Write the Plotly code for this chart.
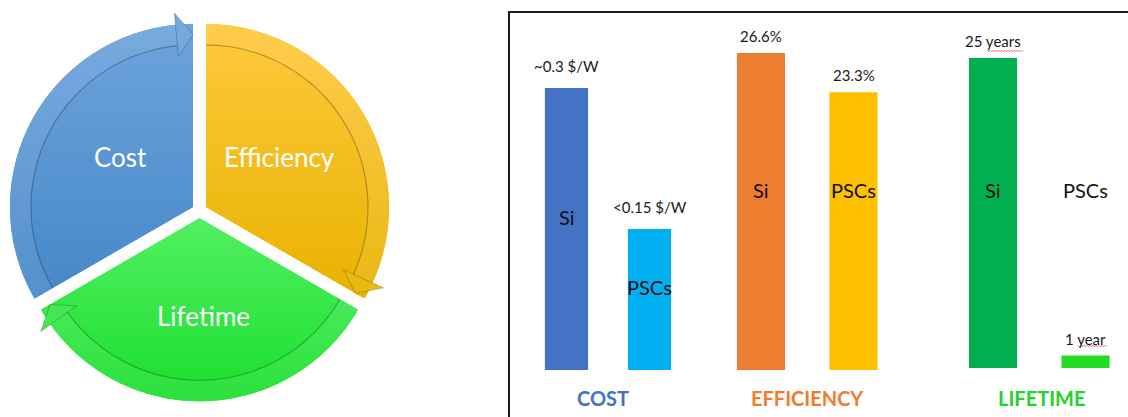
import numpy as np
import plotly.graph_objects as go

W, H = 1128, 417

# ---------------- data ----------------
cycle_labels = ["Cost", "Efficiency", "Lifetime"]
cycle_values = [1, 1, 1]

bar_categories = ["Si", "PSCs"]
group_names = ["COST", "EFFICIENCY", "LIFETIME"]
cost_values = [0.3, 0.15]
efficiency_values = [26.6, 23.3]
lifetime_values = [25, 1]
cost_texts = ["~0.3 $/W", "<0.15 $/W"]
efficiency_texts = ["26.6%", "23.3%"]
lifetime_texts = ["25 years", "1 year"]

# ---------------- styles ----------------
FONT = "Lato"
TEXT_DARK = "#1a1a1a"
wedge_mid = ["#5A97D3", "#F5BE1C", "#35E846"]
wedge_top = ["#6FA5DD", "#FFC93E", "#52EF62"]
wedge_bottom = ["#4687C9", "#E8B200", "#1ADF2C"]
bar_colors = [["#4472C4", "#00B0F0"], ["#ED7D31", "#FFC000"], ["#00B050", "#22DD22"]]
group_label_colors = ["#4472C4", "#ED7D31", "#22D32B"]

# cycle-diagram geometry (pixels)
CX, CY, RAD, PULL = 199.5, 210.75, 183.0, 7.5
BAND, HEAD_OUT, HEAD_IN, HEAD_ANG = 21.0, 12.0, 32.0, 5.5
START_ANGLE = 210.0  # math degrees, slices go clockwise


def hex2rgb(h):
    h = h.lstrip("#")
    return np.array([int(h[i:i + 2], 16) for i in (0, 2, 4)], dtype=float)


def mix(c1, c2, t):
    c = (1 - t) * hex2rgb(c1) + t * hex2rgb(c2)
    return "rgb(%d,%d,%d)" % tuple(np.clip(np.round(c), 0, 255))


def lighten(rgbstr, a):
    vals = np.array([float(v) for v in rgbstr[4:-1].split(",")])
    vals = vals + (255 - vals) * a
    return "rgb(%d,%d,%d)" % tuple(np.round(vals))


def to_path(points, close=True):
    s = "M " + " L ".join(f"{x / W:.5f},{1 - y / H:.5f}" for x, y in points)
    return s + (" Z" if close else "")


def clip_half(poly, keep, cval):
    out = []
    n = len(poly)
    for i in range(n):
        cur, prev = poly[i], poly[i - 1]
        kc, kp = keep(cur), keep(prev)
        if kc:
            if not kp:
                t = (cval - prev[1]) / (cur[1] - prev[1])
                out.append((prev[0] + t * (cur[0] - prev[0]), cval))
            out.append(cur)
        elif kp:
            t = (cval - prev[1]) / (cur[1] - prev[1])
            out.append((prev[0] + t * (cur[0] - prev[0]), cval))
    return out


def clip_strip(poly, y0, y1):
    p = clip_half(poly, lambda q: q[1] >= y0, y0)
    if len(p) < 3:
        return []
    p = clip_half(p, lambda q: q[1] <= y1, y1)
    return p if len(p) >= 3 else []


shapes = []
annotations = []

# ---------------- cycle diagram (pie) ----------------
vals = np.array(cycle_values, dtype=float)
fracs = vals / vals.sum()
pull_frac = PULL / RAD
R_box = RAD * (1 + pull_frac)

pie = go.Pie(
    labels=cycle_labels,
    values=cycle_values,
    sort=False,
    direction="clockwise",
    rotation=90 - START_ANGLE,
    pull=[pull_frac] * len(cycle_values),
    marker=dict(colors=wedge_mid, line=dict(width=0)),
    textinfo="none",
    hoverinfo="skip",
    showlegend=False,
    domain=dict(x=[(CX - R_box) / W, (CX + R_box) / W],
                y=[1 - (CY + R_box) / H, 1 - (CY - R_box) / H]),
)

cum = np.concatenate([[0], np.cumsum(fracs)])
for k in range(len(cycle_values)):
    a0 = START_ANGLE - 360 * cum[k]
    a1 = START_ANGLE - 360 * cum[k + 1]
    b = np.radians((a0 + a1) / 2)
    ax, ay = CX + PULL * np.cos(b), CY - PULL * np.sin(b)

    def pt(ang, rr):
        return (ax + rr * np.cos(np.radians(ang)), ay - rr * np.sin(np.radians(ang)))

    arc = [pt(a, RAD) for a in np.linspace(a0, a1, 80)]
    wedge = [(ax, ay)] + arc
    ys = [p[1] for p in wedge]
    head = [pt(a1 + HEAD_ANG, RAD + HEAD_OUT), pt(a1, RAD - BAND / 2), pt(a1 + HEAD_ANG, RAD - HEAD_IN)]
    ys_all = ys + [p[1] for p in head]
    ymin, ymax = min(ys_all), max(ys_all)

    # vertical gradient strips clipped to the wedge
    step = 5.0
    nstr = int(np.ceil((max(ys) - min(ys)) / step))
    for i in range(nstr):
        y0 = min(ys) + i * step
        y1 = y0 + step
        poly = clip_strip(wedge, y0 - 0.5, y1 + 0.5)
        if not poly:
            continue
        t = ((y0 + y1) / 2 - ymin) / (ymax - ymin)
        shapes.append(dict(type="path", xref="paper", yref="paper", layer="above",
                           path=to_path(poly), fillcolor=mix(wedge_top[k], wedge_bottom[k], t),
                           line=dict(width=0)))

    # lighter rim band
    outer = [pt(a, RAD) for a in np.linspace(a0, a1 + HEAD_ANG, 60)]
    inner = [pt(a, RAD - BAND) for a in np.linspace(a1 + HEAD_ANG, a0, 60)]
    shapes.append(dict(type="path", xref="paper", yref="paper", layer="above",
                       path=to_path(outer + inner), fillcolor="rgba(255,255,255,0.08)",
                       line=dict(width=0)))
    # arrow head
    hy = np.mean([p[1] for p in head])
    hcol = lighten(mix(wedge_top[k], wedge_bottom[k], (hy - ymin) / (ymax - ymin)), 0.06)
    shapes.append(dict(type="path", xref="paper", yref="paper", layer="above",
                       path=to_path(head), fillcolor=hcol,
                       line=dict(width=1, color="rgba(0,0,0,0.2)")))
    # inner edge line of the band
    shapes.append(dict(type="path", xref="paper", yref="paper", layer="above",
                       path=to_path([pt(a, RAD - BAND) for a in np.linspace(a0, a1 + HEAD_ANG, 60)], close=False),
                       line=dict(width=1.1, color="rgba(0,0,0,0.28)")))

cycle_label_pos = [(120, 157), (279, 157), (203, 316)]
for lab, (x, y) in zip(cycle_labels, cycle_label_pos):
    annotations.append(dict(text=lab, x=x / W, y=1 - y / H, xref="paper", yref="paper",
                            showarrow=False, xanchor="center", yanchor="middle",
                            font=dict(family=FONT, size=26, color="white")))

# ---------------- bar chart ----------------
group_values = [cost_values, efficiency_values, lifetime_values]
group_texts = [cost_texts, efficiency_texts, lifetime_texts]
x_domains_px = [(525.0, 691.0), (714.75, 899.75), (946.75, 1128.0)]
x_ranges = [[-0.5, 1.5], [-0.5, 1.5], [-0.5, 1.5 - 3.75 / 92.5]]
baseline_px = [370.0, 370.0, 368.0]
tallest_px = [282.0, 317.0, 310.0]
value_shift = [11, 6, 6]
inside_y_px = [[217, 287], [190, 190], [190, 190]]
group_label_x_px = [603.5, 807.0, 1041.0]
LABEL_Y_PX = 398.0

traces = [pie]
layout_axes = {}
for g in range(3):
    sfx = "" if g == 0 else str(g + 1)
    xa, ya = "x" + sfx, "y" + sfx
    vals_g = group_values[g]
    top = max(vals_g) * baseline_px[g] / tallest_px[g]
    traces.append(go.Bar(x=bar_categories, y=vals_g, xaxis=xa, yaxis=ya, width=0.52,
                         marker=dict(color=bar_colors[g], line=dict(width=0)),
                         hoverinfo="skip", showlegend=False))
    layout_axes["xaxis" + sfx] = dict(domain=[x_domains_px[g][0] / W, x_domains_px[g][1] / W],
                                      range=x_ranges[g], type="category", visible=False,
                                      anchor=ya, fixedrange=True)
    layout_axes["yaxis" + sfx] = dict(domain=[1 - baseline_px[g] / H, 1], range=[0, top],
                                      visible=False, anchor=xa, fixedrange=True)
    for c, v, t, iy in zip(bar_categories, vals_g, group_texts[g], inside_y_px[g]):
        annotations.append(dict(text=t, x=c, y=v, xref=xa, yref=ya, showarrow=False,
                                xanchor="center", yanchor="bottom", yshift=value_shift[g],
                                font=dict(family=FONT, size=15, color=TEXT_DARK)))
        annotations.append(dict(text=c, x=c, y=1 - iy / H, xref=xa, yref="paper", showarrow=False,
                                xanchor="center", yanchor="middle",
                                font=dict(family=FONT, size=20, color="#111111")))
    annotations.append(dict(text=group_names[g], x=group_label_x_px[g] / W, y=1 - LABEL_Y_PX / H,
                            xref="paper", yref="paper", showarrow=False,
                            xanchor="center", yanchor="middle",
                            font=dict(family=FONT, size=20, color=group_label_colors[g], weight="bold")))

# frame around the bar chart panel
shapes.append(dict(type="rect", xref="paper", yref="paper", x0=509 / W, x1=1.02,
                   y0=1 - 12 / H, y1=-0.02, line=dict(color="#1a1a1a", width=2),
                   fillcolor="rgba(0,0,0,0)", layer="below"))

# spell-check squiggles under "years"/"year"
for (xs, xe, yy) in [(987, 1024, 51), (1078, 1107, 346)]:
    xx = np.arange(xs, xe + 0.1, 1.5)
    zz = yy + np.where(np.arange(len(xx)) % 2 == 0, -0.8, 0.8)
    shapes.append(dict(type="path", xref="paper", yref="paper", layer="above",
                       path=to_path(list(zip(xx, zz)), close=False),
                       line=dict(color="rgba(230,40,40,0.8)", width=0.8)))

fig = go.Figure(data=traces)
fig.update_layout(
    width=W, height=H,
    margin=dict(l=0, r=0, t=0, b=0),
    paper_bgcolor="white", plot_bgcolor="white",
    shapes=shapes, annotations=annotations,
    hovermode=False, showlegend=False,
    font=dict(family=FONT),
    **layout_axes,
)
fig.write_html("out.html", config={"displayModeBar": False})
